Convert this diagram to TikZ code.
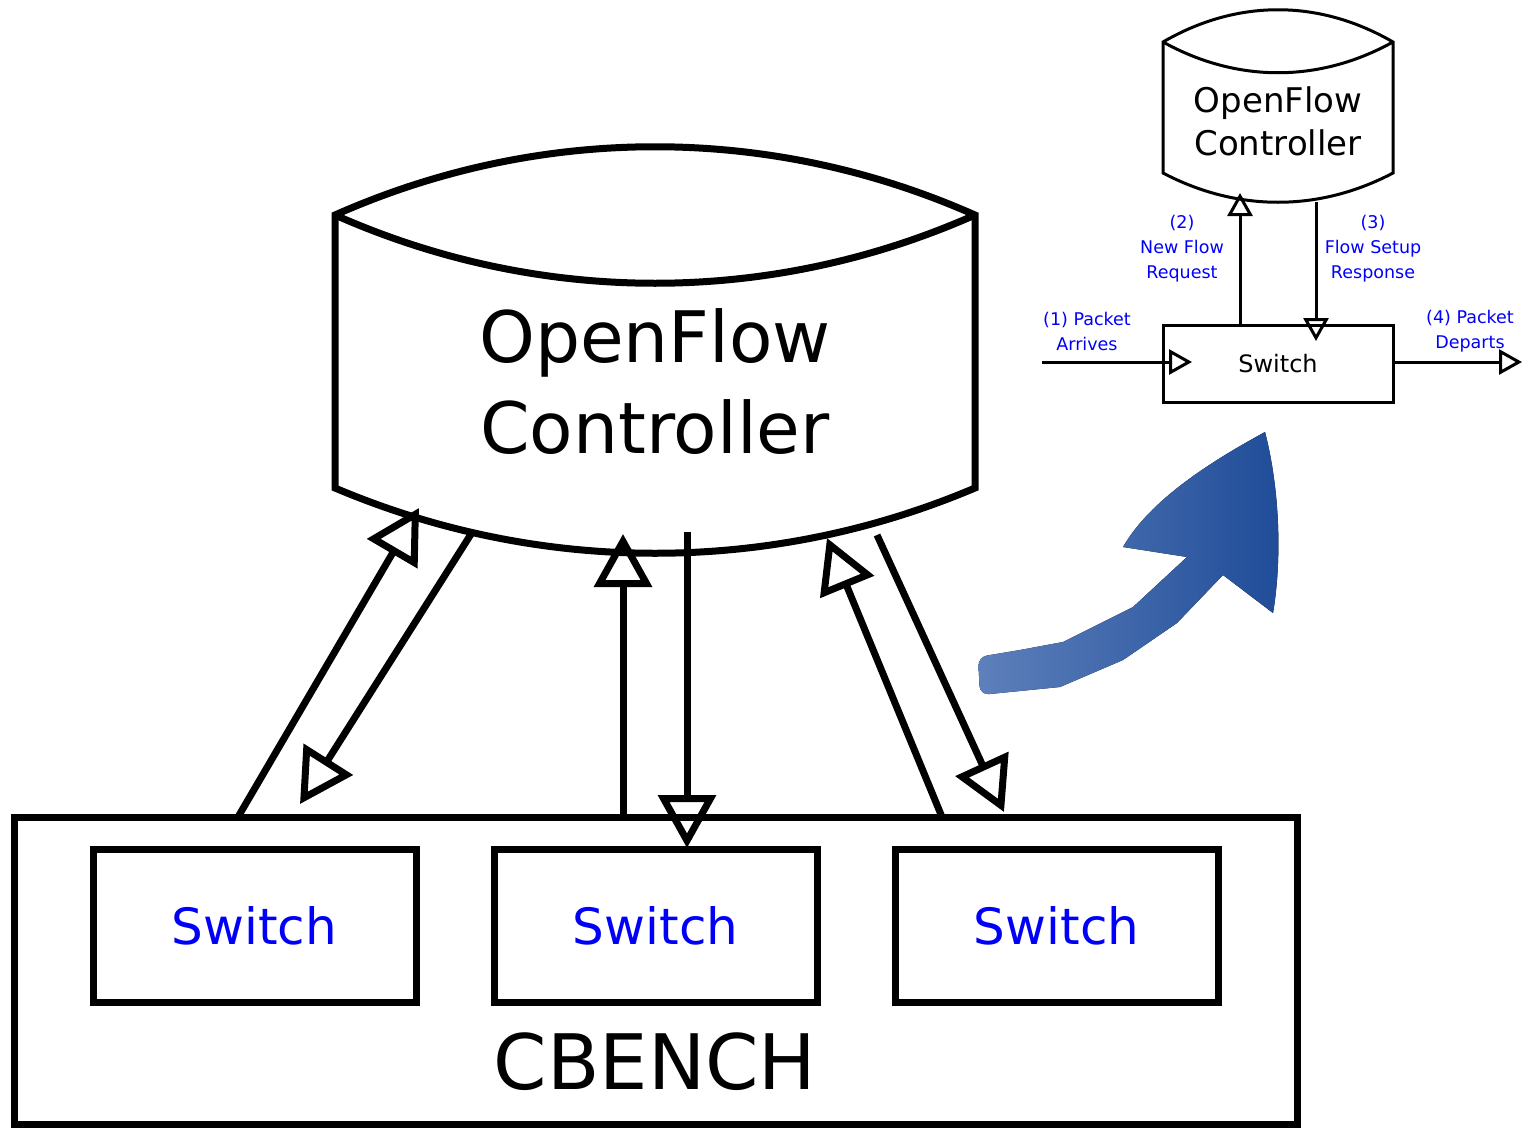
\documentclass[tikz,border=0pt]{standalone}
\usepackage{fontspec}
\setmainfont{DejaVu Sans}
\usetikzlibrary{arrows.meta}
\definecolor{swblue}{RGB}{0,0,250}
\definecolor{arrowlight}{HTML}{5E80BB}
\definecolor{arrowdark}{HTML}{1F4C98}
\begin{document}
\begin{tikzpicture}[x=1pt,y=-1pt,
  heavy/.style={line width=7pt},
  light/.style={line width=3pt},
  bigarrow/.style={line width=7pt, -{Triangle[open,length=53pt,width=57pt]}},
  smallarrow/.style={line width=3pt, -{Triangle[open,length=23pt,width=25pt]}},
  bigbox/.style={draw, line width=7pt, minimum width=323pt, minimum height=153pt, inner sep=0pt,
    text=swblue, font=\fontsize{50}{60}\selectfont},
  lbl/.style={text=swblue, font=\fontsize{17.5}{25}\selectfont, align=center, inner sep=0pt},
]
\useasboundingbox (0,0) rectangle (1523,1127);

% ---------- big controller ----------
\draw[heavy, line join=miter] (335,488) -- (335,215) .. controls (540,124) and (770,124) .. (975,215)
  -- (975,488) .. controls (770,575) and (540,575) .. (335,488) -- cycle;
\draw[heavy] (335,215) .. controls (540,306) and (770,306) .. (975,215);
\node[font=\fontsize{71}{91}\selectfont, align=center, inner sep=0pt] (ctrl) at (655,382) {OpenFlow\\Controller};

% ---------- CBENCH ----------
\node[draw, heavy, minimum width=1283pt, minimum height=307pt, inner sep=0pt] (cbench) at (655.5,970.5) {};
\node[font=\fontsize{76.5}{90}\selectfont, inner sep=0pt] (cbtext) at (655,1062) {CBENCH};
\node[bigbox] (sw1) at (254.5,926) {Switch};
\node[bigbox] (sw2) at (655.5,926) {Switch};
\node[bigbox] (sw3) at (1056.5,926) {Switch};

% ---------- big arrows ----------
\coordinate (a1s) at (238,817);  \coordinate (a1e) at (419,508);
\coordinate (a2s) at (473,531);  \coordinate (a2e) at (300,804);
\coordinate (a3s) at (623,817);  \coordinate (a3e) at (623,534);
\coordinate (a4s) at (687,532);  \coordinate (a4e) at (687,848);
\coordinate (a5s) at (942,817);  \coordinate (a5e) at (827,538);
\coordinate (a6s) at (877,535);  \coordinate (a6e) at (1004,812);
\draw[bigarrow] (a1s) -- (a1e);
\draw[bigarrow] (a2s) -- (a2e);
\draw[bigarrow] (a3s) -- (a3e);
\draw[bigarrow] (a4s) -- (a4e);
\draw[bigarrow] (a5s) -- (a5e);
\draw[bigarrow] (a6s) -- (a6e);

% ---------- blue curved arrow ----------
\fill[left color=arrowlight, right color=arrowdark]
  (1020,691) -- (1060,687) -- (1123,660) -- (1177,623) -- (1223,575) -- (1273,613)
  .. controls (1282,560) and (1280,490) .. (1265,432)
  .. controls (1210,462) and (1150,500) .. (1123,547)
  -- (1187,557) -- (1133,607) -- (1063,642) -- (1020,650)
  [rounded corners=9pt] -- (978,657) -- (980,695) -- cycle;

% ---------- small controller ----------
\draw[light, line join=miter] (1163,173) -- (1163,42) .. controls (1237,-1) and (1319,-1) .. (1393,42)
  -- (1393,173) .. controls (1319,212) and (1237,212) .. (1163,173) -- cycle;
\draw[light] (1163,42) .. controls (1237,83) and (1319,83) .. (1393,42);
\node[font=\fontsize{34}{43}\selectfont, align=center, inner sep=0pt] (sctrl) at (1278,121) {OpenFlow\\Controller};

\node[draw, light, minimum width=230pt, minimum height=77pt, inner sep=0pt,
  font=\fontsize{24}{28}\selectfont] (ssw) at (1278,363.5) {Switch};

\coordinate (s1s) at (1042,362);  \coordinate (s1e) at (1192,362);
\coordinate (s2s) at (1240,325);  \coordinate (s2e) at (1240,193);
\coordinate (s3s) at (1316,202);  \coordinate (s3e) at (1316,341);
\coordinate (s4s) at (1393,362);  \coordinate (s4e) at (1522,362);
\draw[smallarrow] (s1s) -- (s1e);
\draw[smallarrow] (s2s) -- (s2e);
\draw[smallarrow] (s3s) -- (s3e);
\draw[smallarrow] (s4s) -- (s4e);

\node[lbl] (l1) at (1087,331) {(1) Packet\\Arrives};
\node[lbl] (l2) at (1182,249) {(2)\\New Flow\\Request};
\node[lbl] (l3) at (1373,249) {(3)\\Flow Setup\\Response};
\node[lbl] (l4) at (1470,331) {(4) Packet\\Departs};
\end{tikzpicture}
\end{document}
